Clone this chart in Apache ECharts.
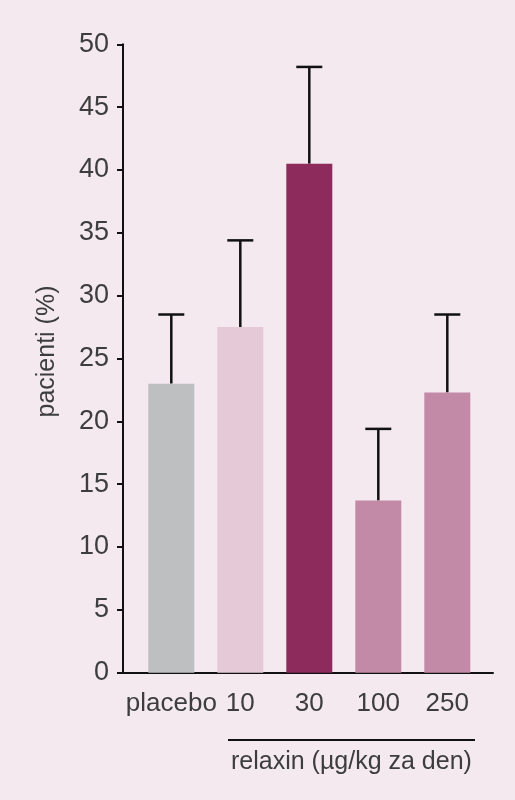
<!DOCTYPE html>
<html>
<head>
<meta charset="utf-8">
<script src="https://cdn.jsdelivr.net/npm/echarts@6/dist/echarts.min.js"></script>
<style>
  html, body { margin: 0; padding: 0; background: #f3e9ef; }
  #main { width: 515px; height: 800px; }
</style>
</head>
<body>
<div id="main"></div>
<script>
  const categories = ['placebo', '10', '30', '100', '250'];
  const values = [23.0, 27.5, 40.5, 13.7, 22.3];
  const errorTops = [28.5, 34.4, 48.2, 19.4, 28.5];
  const barColors = ['#bebfc1', '#e6c9d7', '#8d2b5d', '#c28aa6', '#c28aa6'];
  const yTicks = { min: 0, max: 50, interval: 5 };

  const textColor = '#3d3d3d';
  const font = 'Liberation Sans';

  let myChart = echarts.init(document.getElementById('main'));

  myChart.setOption({
    backgroundColor: '#f3e9ef',
    animation: false,
    grid: [
      // axes only
      { left: 123, right: 22, top: 44.3, bottom: 127.3 },
      // bars
      { left: 136.8, right: 33.2, top: 44.3, bottom: 127.3 }
    ],
    xAxis: [
      {
        gridIndex: 0,
        type: 'value',
        min: 0,
        max: 1,
        axisLine: { show: true, lineStyle: { color: '#111', width: 2 } },
        axisTick: { show: false },
        axisLabel: { show: false },
        splitLine: { show: false }
      },
      {
        gridIndex: 1,
        type: 'category',
        data: categories,
        axisLine: { show: false },
        axisTick: { show: false },
        axisLabel: {
          interval: 0,
          color: textColor,
          fontFamily: font,
          fontSize: 26,
          margin: 18
        }
      }
    ],
    yAxis: [
      {
        gridIndex: 0,
        type: 'value',
        min: yTicks.min,
        max: yTicks.max,
        interval: yTicks.interval,
        name: 'pacienti (%)',
        nameLocation: 'middle',
        nameRotate: 90,
        nameGap: 63,
        nameTextStyle: { color: textColor, fontFamily: font, fontSize: 25, padding: [0, 0, 0, 14] },
        axisLine: { show: true, lineStyle: { color: '#111', width: 2 } },
        axisTick: { show: true, length: 6, lineStyle: { color: '#111', width: 2 } },
        axisLabel: { color: textColor, fontFamily: font, fontSize: 27, margin: 14 },
        splitLine: { show: false }
      },
      {
        gridIndex: 1,
        type: 'value',
        min: yTicks.min,
        max: yTicks.max,
        show: false
      }
    ],
    graphic: [
      {
        type: 'line',
        shape: { x1: 228, y1: 740, x2: 475, y2: 740 },
        style: { stroke: '#111', lineWidth: 2 }
      },
      {
        type: 'text',
        left: 231,
        top: 750,
        style: {
          text: 'relaxin (µg/kg za den)',
          fill: textColor,
          font: '25px "Liberation Sans"'
        }
      }
    ],
    series: [
      {
        type: 'bar',
        xAxisIndex: 1,
        yAxisIndex: 1,
        barWidth: 46,
        data: values.map((v, i) => ({ value: v, itemStyle: { color: barColors[i] } }))
      },
      {
        type: 'custom',
        xAxisIndex: 1,
        yAxisIndex: 1,
        data: errorTops.map((e, i) => [i, e, values[i]]),
        renderItem: function (params, api) {
          const top = api.coord([api.value(0), api.value(1)]);
          const base = api.coord([api.value(0), api.value(2)]);
          const half = 13;
          return {
            type: 'group',
            children: [
              {
                type: 'line',
                shape: { x1: top[0], y1: top[1], x2: base[0], y2: base[1] },
                style: { stroke: '#111', lineWidth: 2.5 }
              },
              {
                type: 'line',
                shape: { x1: top[0] - half, y1: top[1], x2: top[0] + half, y2: top[1] },
                style: { stroke: '#111', lineWidth: 2.5 }
              }
            ]
          };
        }
      }
    ]
  });
  window.addEventListener('resize', myChart.resize);
</script>
</body>
</html>
